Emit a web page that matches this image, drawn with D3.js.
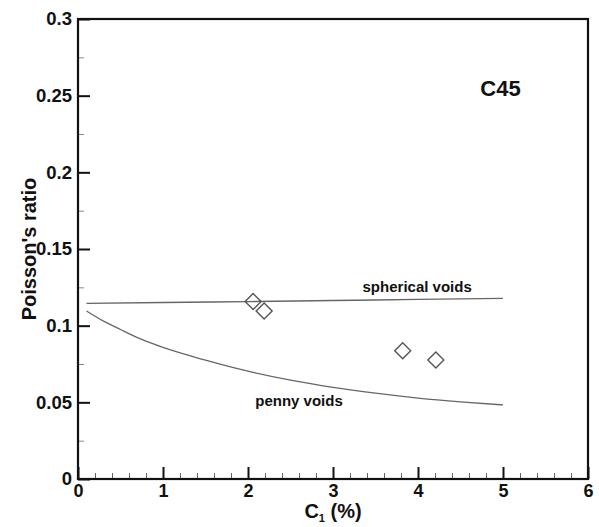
<!DOCTYPE html>
<html>
<head>
<meta charset="utf-8">
<script src="https://cdn.jsdelivr.net/npm/d3@7"></script>
<style>
  body { margin: 0; background: #fff; }
  svg text { font-family: "Liberation Sans", Arial, Helvetica, sans-serif; font-weight: bold; fill: #111; }
</style>
</head>
<body>
<svg id="chart" width="599" height="527"></svg>
<script>
// data
const sphericalX = [0.1, 1, 2, 3, 4, 5];
const sphericalY = [0.1145, 0.1151, 0.1157, 0.1164, 0.1171, 0.1178];

const pennyX = [0.1, 0.3, 0.5, 0.75, 1, 1.5, 2, 2.5, 3, 3.5, 4, 4.5, 5];
const pennyY = [0.1096, 0.1030, 0.0975, 0.0910, 0.0858, 0.0775, 0.0703, 0.0645, 0.0598, 0.0560, 0.0528, 0.0503, 0.0483];

const pointsX = [2.06, 2.19, 3.82, 4.21];
const pointsY = [0.1157, 0.1095, 0.0837, 0.0776];

const xTicks = [0, 1, 2, 3, 4, 5, 6];
const yTicks = [0, 0.05, 0.1, 0.15, 0.2, 0.25, 0.3];
const yTickLabels = ["0", "0.05", "0.1", "0.15", "0.2", "0.25", "0.3"];

const svg = d3.select("#chart");
const margin = { left: 78, right: 11, top: 19, bottom: 48 };
const W = 599, H = 527;

const x = d3.scaleLinear().domain([0, 6]).range([margin.left, W - margin.right]);
const y = d3.scaleLinear().domain([0, 0.3]).range([H - margin.bottom, margin.top]);

const xMinor = d3.range(0, 6.001, 0.2).filter(v => Math.abs(v - Math.round(v)) > 1e-6);
const yMinor = d3.range(0.025, 0.3, 0.05);

// minor ticks
svg.append("g")
  .attr("transform", `translate(0,${y(0)})`)
  .call(d3.axisBottom(x).tickValues(xMinor).tickSize(-6).tickFormat(""))
  .call(g => g.select(".domain").remove())
  .call(g => g.selectAll("line").attr("stroke", "#666").attr("stroke-width", 1));

svg.append("g")
  .attr("transform", `translate(${x(0)},0)`)
  .call(d3.axisLeft(y).tickValues(yMinor).tickSize(-6).tickFormat(""))
  .call(g => g.select(".domain").remove())
  .call(g => g.selectAll("line").attr("stroke", "#888").attr("stroke-width", 1));

// major ticks + labels
svg.append("g")
  .attr("transform", `translate(0,${y(0)})`)
  .call(d3.axisBottom(x).tickValues(xTicks).tickSize(-12).tickFormat(d3.format("d")))
  .call(g => g.select(".domain").remove())
  .call(g => g.selectAll("line").attr("stroke", "#111").attr("stroke-width", 2))
  .call(g => g.selectAll("text").attr("font-size", 18).attr("dy", "0.71em").attr("y", 5));

svg.append("g")
  .attr("transform", `translate(${x(0)},0)`)
  .call(d3.axisLeft(y).tickValues(yTicks).tickSize(-12).tickFormat((d, i) => yTickLabels[i]))
  .call(g => g.select(".domain").remove())
  .call(g => g.selectAll("line").attr("stroke", "#111").attr("stroke-width", 2))
  .call(g => g.selectAll("text").attr("font-size", 18.5).attr("x", -6));

// frame
svg.append("rect")
  .attr("x", x(0)).attr("y", y(0.3))
  .attr("width", x(6) - x(0)).attr("height", y(0) - y(0.3))
  .attr("fill", "none").attr("stroke", "#111").attr("stroke-width", 2.2);

// curves
const line = d3.line().curve(d3.curveMonotoneX).x(d => x(d[0])).y(d => y(d[1]));

svg.append("path")
  .datum(d3.zip(sphericalX, sphericalY))
  .attr("d", line)
  .attr("fill", "none").attr("stroke", "#666").attr("stroke-width", 1.3);

svg.append("path")
  .datum(d3.zip(pennyX, pennyY))
  .attr("d", line)
  .attr("fill", "none").attr("stroke", "#666").attr("stroke-width", 1.3);

// diamonds
svg.selectAll(".pt")
  .data(d3.zip(pointsX, pointsY))
  .enter()
  .append("path")
  .attr("class", "pt")
  .attr("transform", d => `translate(${x(d[0])},${y(d[1])})`)
  .attr("d", "M0,-8L8,0L0,8L-8,0Z")
  .attr("fill", "none").attr("stroke", "#555").attr("stroke-width", 1.4);

// annotations
svg.append("text").attr("x", x(3.99)).attr("y", y(0.1220)).attr("text-anchor", "middle")
  .attr("font-size", 15).text("spherical voids");
svg.append("text").attr("x", x(2.6)).attr("y", y(0.0476)).attr("text-anchor", "middle")
  .attr("font-size", 15).text("penny voids");
svg.append("text").attr("x", x(4.97)).attr("y", y(0.2498)).attr("text-anchor", "middle")
  .attr("font-size", 22).text("C45");

// axis titles
const xt = svg.append("text").attr("x", x(3)).attr("y", 518).attr("text-anchor", "middle").attr("font-size", 20);
xt.append("tspan").text("C");
xt.append("tspan").attr("font-size", 11).attr("dy", 4).text("1");
xt.append("tspan").attr("dy", -4).text(" (%)");

svg.append("text")
  .attr("transform", `translate(36,${y(0.15)}) rotate(-90)`)
  .attr("text-anchor", "middle").attr("font-size", 20)
  .text("Poisson's ratio");
</script>
</body>
</html>
